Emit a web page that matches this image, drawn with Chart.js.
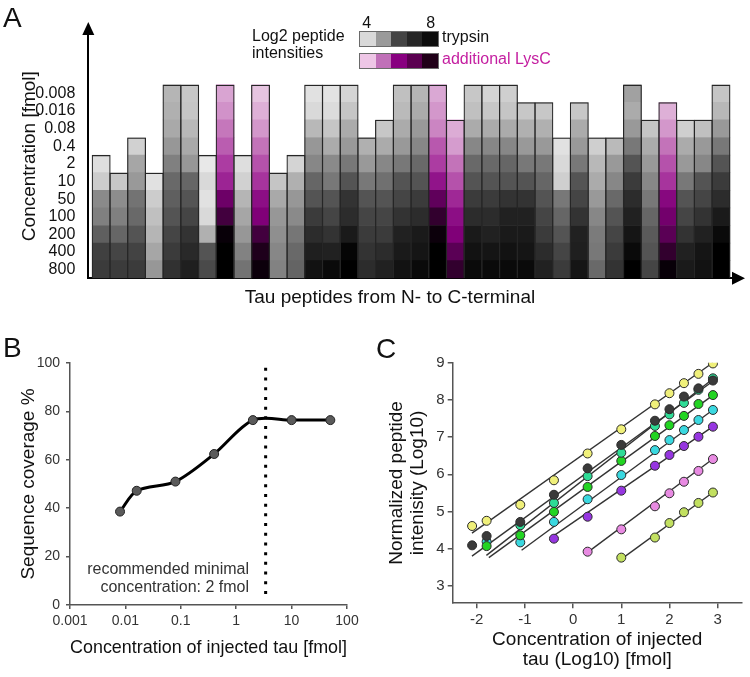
<!DOCTYPE html>
<html>
<head>
<meta charset="utf-8">
<title>Tau peptide figure</title>
<script src="https://cdn.jsdelivr.net/npm/chart.js@4.4.0/dist/chart.umd.min.js"></script>
<style>
  html, body { margin: 0; padding: 0; background: #fff; }
  #page { position: relative; width: 750px; height: 677px; overflow: hidden;
          font-family: 'Liberation Sans', Arial, Helvetica, sans-serif; color: #111; }
  .box { position: absolute; }
  .txt { position: absolute; white-space: nowrap; }
  .panel { font-size: 28px; line-height: 28px; }
  .leg { font-size: 16px; line-height: 16.5px; }
  .strip { position: absolute; width: 80px; height: 16px; display: flex;
           border: 1px solid #6a6a6a; box-sizing: border-box; }
  .strip span { flex: 1; }
</style>
</head>
<body>
<div id="page">
  <div class="box" style="left:0;top:0"><canvas id="chartA" width="750" height="310"></canvas></div>
  <div class="box" style="left:0;top:320px"><canvas id="chartB" width="375" height="357"></canvas></div>
  <div class="box" style="left:375px;top:320px"><canvas id="chartC" width="375" height="357"></canvas></div>

  <div class="txt panel" style="left:3px;top:4px">A</div>
  <div class="txt panel" style="left:3px;top:334px">B</div>
  <div class="txt panel" style="left:376px;top:335px">C</div>

  <div class="txt" style="left:390px;top:287px;font-size:19px;line-height:20px;transform:translateX(-50%)">Tau peptides from N- to C-terminal</div>

  <div class="txt leg" style="left:252px;top:28px">Log2 peptide<br>intensities</div>
  <div class="txt leg" style="left:366.7px;top:14.5px;transform:translateX(-50%)">4</div>
  <div class="txt leg" style="left:430.7px;top:14.5px;transform:translateX(-50%)">8</div>
  <div class="strip" style="left:359px;top:30.5px">
    <span style="background:#d9d9d9"></span><span style="background:#9a9a9a"></span><span style="background:#444"></span><span style="background:#262626"></span><span style="background:#0d0d0d"></span>
  </div>
  <div class="strip" style="left:359px;top:52.5px">
    <span style="background:#eec6e6"></span><span style="background:#c070b8"></span><span style="background:#880080"></span><span style="background:#5a0050"></span><span style="background:#200018"></span>
  </div>
  <div class="txt leg" style="left:442px;top:29px">trypsin</div>
  <div class="txt leg" style="left:442px;top:51px;color:#c41ea0">additional LysC</div>

  <div class="txt" style="right:501px;top:560px;font-size:16px;line-height:18.4px;text-align:right;color:#333">recommended minimal<br>concentration: 2 fmol</div>
</div>

<script>
// injected amounts, fmol
const concLabels = ['0.008', '0.016', '0.08', '0.4', '2', '10', '50', '100', '200', '400', '800'];
const concValues = [0.008, 0.016, 0.08, 0.4, 2, 10, 50, 100, 200, 400, 800];

// A: log2 intensity per tau peptide (N- to C-terminal), from 800 fmol upward.
// a column ends at the lowest amount where the peptide was still seen
const peptideIntensities = [
  [7.1, 7.0, 6.4, 5.75, 5.55, 4.25, 3.9],
  [7.1, 6.9, 6.25, 5.75, 5.5, 4.35],
  [7.1, 6.95, 6.6, 6.2, 6.0, 5.25, 5.0, 4.15],
  [5.3, 5.0, 4.7, 4.5, 4.25, 3.85],
  [7.3, 7.1, 6.9, 6.6, 6.4, 6.2, 5.75, 5.3, 4.95, 4.8, 4.7],
  [7.65, 7.45, 7.25, 6.9, 6.6, 6.25, 5.3, 4.95, 4.65, 4.4, 4.35],
  [6.8, 6.6, 4.8, 4.0, 3.85, 4.0, 3.7],
  [8.3, 8.3, 8.1, 7.2, 6.6, 5.6, 5.3, 5.0, 4.75, 4.45, 4.25],
  [6.0, 5.7, 5.3, 5.0, 4.7, 4.15, 3.9],
  [8.0, 7.7, 7.2, 6.3, 5.95, 5.4, 5.1, 4.8, 4.4, 4.1, 3.85],
  [5.7, 5.6, 5.45, 5.3, 4.95, 4.4],
  [6.3, 6.2, 5.95, 5.55, 5.3, 4.8, 4.1],
  [7.9, 7.65, 7.4, 7.1, 6.6, 6.25, 5.6, 5.3, 4.65, 4.0, 3.85],
  [8.05, 7.6, 7.25, 6.9, 6.6, 5.9, 5.55, 4.9, 4.4, 3.95, 3.8],
  [8.25, 8.15, 7.75, 7.4, 7.25, 6.6, 5.9, 5.25, 4.9, 4.4, 4.1],
  [7.4, 7.25, 7.1, 6.9, 6.6, 5.9, 5.25, 4.8],
  [7.6, 7.4, 7.1, 6.9, 6.6, 6.05, 5.6, 4.9, 4.35],
  [7.9, 7.75, 7.6, 7.25, 6.9, 6.6, 5.9, 5.25, 4.9, 4.6, 4.5],
  [8.05, 7.85, 7.75, 7.4, 7.1, 6.6, 6.2, 5.6, 5.25, 4.9, 4.7],
  [8.3, 8.3, 8.0, 7.4, 6.8, 5.8, 5.3, 5.05, 4.6, 4.4, 4.2],
  [7.4, 6.9, 6.3, 5.95, 5.55, 5.1, 4.8, 4.35, 4.15],
  [8.05, 7.9, 7.75, 7.4, 7.1, 6.6, 6.2, 5.6, 4.9, 4.5, 4.35],
  [8.05, 7.85, 7.6, 7.4, 7.1, 6.6, 6.2, 5.6, 4.9, 4.35, 4.1],
  [8.05, 7.9, 7.75, 7.6, 7.25, 6.6, 6.25, 5.6, 4.9, 4.4, 4.2],
  [8.05, 7.85, 7.75, 7.6, 7.25, 6.6, 5.9, 5.25, 4.8, 4.35],
  [7.6, 7.4, 7.1, 6.9, 6.6, 6.25, 5.9, 5.25, 4.8, 4.35],
  [7.1, 6.9, 6.6, 6.25, 5.9, 4.2, 4.0, 3.85],
  [7.85, 7.65, 7.6, 7.25, 6.9, 6.6, 5.9, 5.25, 4.9, 4.35],
  [6.2, 5.9, 5.85, 5.6, 5.25, 4.9, 4.65, 4.2],
  [7.25, 7.1, 6.9, 6.6, 6.2, 5.6, 5.25, 4.6],
  [8.25, 8.05, 7.85, 7.6, 7.4, 7.1, 6.6, 5.9, 5.25, 4.9, 5.1],
  [6.9, 6.6, 6.5, 6.25, 5.9, 5.6, 5.25, 4.9, 4.4],
  [8.1, 7.4, 6.9, 6.5, 6.1, 5.4, 5.1, 4.8, 4.4, 4.1],
  [7.75, 7.6, 7.25, 6.9, 6.6, 5.9, 5.25, 4.9, 4.2],
  [7.9, 7.85, 7.6, 7.25, 6.9, 6.6, 5.6, 5.25, 4.5],
  [8.25, 8.25, 8.05, 7.75, 7.4, 7.1, 6.6, 5.9, 5.25, 4.65, 4.4]
];
// peptides only found with the extra LysC digest (1-based)
const lysCPeptides = [8, 10, 20, 21, 33];

// B: sequence coverage
const coverageConc = [0.008, 0.016, 0.08, 0.4, 2, 10, 50];
const coveragePct = [38.6, 47.2, 51, 62.4, 76.4, 76.4, 76.4];
const cutoffFmol = 3.4;
const cutoffSpan = [98, 3];

// C: normalized intensity (log10) per peptide, one value per injected amount
const intensityYellow = [4.61, 4.75, 5.18, 5.84, 6.56, 7.21, 7.88, 8.18, 8.45, 8.70, 8.98];
const intensityBlack = [4.09, 4.34, 4.72, 5.45, 6.16, 6.79, 7.44, 7.75, 8.09, 8.31, 8.52];
const intensityMint = [null, null, 4.63, 5.23, 5.95, 6.58, 7.30, 7.61, 7.92, 8.27, 8.58];
const intensityGreen = [null, 4.07, 4.36, 4.99, 5.66, 6.36, 7.03, 7.32, 7.57, 7.89, 8.13];
const intensityCyan = [null, 4.19, 4.17, 4.72, 5.33, 5.98, 6.65, 6.92, 7.19, 7.46, 7.73];
const intensityPurple = [null, null, null, 4.27, 4.86, 5.56, 6.23, 6.52, 6.76, 7.01, 7.28];
const intensityPink = [null, null, null, null, 3.92, 4.52, 5.14, 5.49, 5.80, 6.09, 6.41];
const intensityLime = [null, null, null, null, null, 3.76, 4.30, 4.69, 4.98, 5.23, 5.51];

// fitted lines, [log10 fmol, log10 intensity] at both ends
const fitYellow = [[-2.1, 4.42], [2.9, 9.0]];
const fitBlack = [[-2.1, 3.80], [2.9, 8.50]];
const fitMint = [[-1.8, 3.82], [2.9, 8.56]];
const fitGreen = [[-1.75, 3.76], [2.9, 8.12]];
const fitCyan = [[-1.07, 3.96], [2.9, 7.73]];
const fitPurple = [[-0.4, 4.35], [2.9, 7.28]];
const fitPink = [[0.3, 3.9], [2.9, 6.41]];
const fitLime = [[1.0, 3.72], [2.9, 5.51]];

Chart.defaults.font.family = "'Liberation Sans', Arial, Helvetica, sans-serif";
Chart.defaults.animation = false;
Chart.defaults.plugins.legend.display = false;
Chart.defaults.plugins.tooltip.enabled = false;

// ---------- colour scales for panel A ----------
const toRgb = c => `rgb(${c.map(Math.round).join(',')})`;

const grayFor = v => {
  const g = Math.max(0, Math.min(235, 217 - 51 * (v - 4)));
  return toRgb([g, g, g]);
};

const magentaStops = [
  [3.8, [232, 200, 226]], [4.3, [215, 160, 208]], [4.8, [195, 115, 185]],
  [5.3, [172, 60, 162]], [5.8, [145, 20, 138]], [6.3, [128, 0, 120]],
  [6.9, [90, 0, 85]], [7.4, [50, 0, 46]], [7.9, [16, 0, 15]], [8.3, [0, 0, 0]]
];
const magentaFor = v => {
  if (v <= magentaStops[0][0]) return toRgb(magentaStops[0][1]);
  for (let i = 1; i < magentaStops.length; i++) {
    const [v1, c1] = magentaStops[i];
    if (v <= v1) {
      const [v0, c0] = magentaStops[i - 1];
      const t = (v - v0) / (v1 - v0);
      return toRgb(c0.map((c, k) => c + (c1[k] - c) * t));
    }
  }
  return toRgb(magentaStops[magentaStops.length - 1][1]);
};

// ---------- panel A ----------
const peptideNumbers = peptideIntensities.map((_, i) => i + 1);
const rowsFromBottom = [...concLabels].reverse();

// one stacked dataset per amount, each cell one unit tall
const cellDatasets = rowsFromBottom.map((label, row) => ({
  label: label + ' fmol',
  data: peptideIntensities.map((col, i) => ({ x: peptideNumbers[i], y: row < col.length ? 1 : null })),
  backgroundColor: ctx => {
    const v = peptideIntensities[ctx.dataIndex][row];
    if (v === undefined) return 'rgba(0,0,0,0)';
    return lysCPeptides.includes(ctx.dataIndex + 1) ? magentaFor(v) : grayFor(v);
  },
  borderWidth: 0,
  grouped: false,
  stack: 'cells',
  barPercentage: 1,
  categoryPercentage: 1,
  order: 1
}));

// outline around each peptide column; a bit wider so neighbouring borders overlap
const outlineDataset = {
  label: 'detected range',
  data: peptideIntensities.map((col, i) => ({ x: peptideNumbers[i], y: col.length })),
  backgroundColor: 'rgba(0,0,0,0)',
  borderColor: '#262626',
  borderWidth: 1.2,
  borderSkipped: 'start',
  grouped: false,
  stack: 'outline',
  barPercentage: 1.068,
  categoryPercentage: 1,
  order: 0
};

const axisArrows = {
  id: 'axisArrows',
  afterDraw(chart) {
    const { ctx, chartArea: a } = chart;
    ctx.save();
    ctx.fillStyle = '#000';
    ctx.beginPath();
    ctx.moveTo(a.left - 6, a.top + 1);
    ctx.lineTo(a.left + 6, a.top + 1);
    ctx.lineTo(a.left, a.top - 12);
    ctx.closePath();
    ctx.fill();
    ctx.beginPath();
    ctx.moveTo(a.right - 1, a.bottom - 6.5);
    ctx.lineTo(a.right - 1, a.bottom + 6.5);
    ctx.lineTo(a.right + 12, a.bottom);
    ctx.closePath();
    ctx.fill();
    ctx.restore();
  }
};

new Chart(document.getElementById('chartA'), {
  type: 'bar',
  data: { datasets: [outlineDataset, ...cellDatasets] },
  options: {
    responsive: false,
    layout: { padding: { top: 34, right: 17, left: 0, bottom: 0 } },
    scales: {
      x: {
        type: 'linear', min: 0.274, max: 36.68, offset: false,
        grid: { display: false },
        ticks: { display: false },
        border: { display: true, color: '#000', width: 2 },
        afterFit: s => { s.height = 31.7; }
      },
      y: {
        type: 'linear', min: 0, max: 13.88, stacked: true,
        grid: { display: false },
        border: { display: true, color: '#000', width: 2 },
        afterBuildTicks: s => { s.ticks = rowsFromBottom.map((_, i) => ({ value: i + 0.5 })); },
        ticks: {
          autoSkip: false,
          callback: (v, i) => rowsFromBottom[i],
          font: { size: 16 },
          color: '#111',
          padding: 5
        },
        title: {
          display: true,
          text: 'Concentration [fmol]',
          font: { size: 19 },
          color: '#111',
          padding: { top: 18, bottom: 0 }
        },
        afterFit: s => { s.width = 88.3; }
      }
    }
  },
  plugins: [axisArrows]
});

// ---------- panel B ----------
new Chart(document.getElementById('chartB'), {
  type: 'line',
  data: {
    datasets: [
      {
        label: 'recommended minimal concentration',
        data: cutoffSpan.map(y => ({ x: cutoffFmol, y })),
        borderColor: '#000',
        borderWidth: 3,
        borderDash: [3, 6.7],
        pointRadius: 0,
        order: 0
      },
      {
        label: 'Sequence coverage',
        data: coverageConc.map((x, i) => ({ x, y: coveragePct[i] })),
        borderColor: '#000',
        borderWidth: 3,
        tension: 0.3,
        pointRadius: 4.5,
        pointBackgroundColor: '#5a5a5a',
        pointBorderColor: '#222',
        pointBorderWidth: 1,
        order: 1
      }
    ]
  },
  options: {
    responsive: false,
    layout: { padding: { top: 43, right: 28, left: 0, bottom: 0 } },
    scales: {
      x: {
        type: 'logarithmic', min: 0.001, max: 100,
        afterBuildTicks: s => { s.ticks = [0.001, 0.01, 0.1, 1, 10, 100].map(value => ({ value })); },
        ticks: { callback: v => String(v), font: { size: 14 }, color: '#333', padding: 4, autoSkip: false, maxRotation: 0 },
        grid: { display: true, drawOnChartArea: false, drawTicks: true, tickLength: 4, color: '#555', lineWidth: 1.5 },
        border: { display: true, color: '#555', width: 1.5 },
        title: {
          display: true,
          text: 'Concentration of injected tau [fmol]',
          font: { size: 19 },
          color: '#111',
          padding: { top: 0, bottom: 17.6 }
        },
        afterFit: s => { s.height = 72; }
      },
      y: {
        type: 'linear', min: 0, max: 100,
        ticks: { stepSize: 20, font: { size: 14 }, color: '#333', padding: 6 },
        grid: { display: true, drawOnChartArea: false, drawTicks: true, tickLength: 4, color: '#555', lineWidth: 1.5 },
        border: { display: true, color: '#555', width: 1.5 },
        title: {
          display: true,
          text: 'Sequence coverage %',
          font: { size: 19 },
          color: '#111',
          padding: { top: 17.6, bottom: 0 }
        },
        afterFit: s => { s.width = 70; }
      }
    }
  }
});

// ---------- panel C ----------
const concLog = concValues.map(Math.log10);

const cSeries = [
  { values: intensityYellow, fit: fitYellow, color: '#f0f07a' },
  { values: intensityBlack, fit: fitBlack, color: '#3a3a3a' },
  { values: intensityMint, fit: fitMint, color: '#2edc96' },
  { values: intensityGreen, fit: fitGreen, color: '#22d422' },
  { values: intensityCyan, fit: fitCyan, color: '#3ad8e0' },
  { values: intensityPurple, fit: fitPurple, color: '#9636e0' },
  { values: intensityPink, fit: fitPink, color: '#e88ae2' },
  { values: intensityLime, fit: fitLime, color: '#c2e060' }
];

const fitSets = cSeries.map(s => ({
  type: 'line',
  data: s.fit.map(([x, y]) => ({ x, y })),
  borderColor: '#333',
  borderWidth: 1.4,
  pointRadius: 0,
  order: 1
}));

const pointSets = cSeries.map(s => ({
  type: 'scatter',
  data: s.values.map((y, i) => ({ x: concLog[i], y })).filter(p => p.y !== null),
  backgroundColor: s.color,
  borderColor: '#2a2a2a',
  borderWidth: 1,
  pointRadius: 4.5,
  order: 0
}));

new Chart(document.getElementById('chartC'), {
  type: 'scatter',
  data: { datasets: [...fitSets, ...pointSets] },
  options: {
    responsive: false,
    layout: { padding: { top: 42.7, right: 8.3, left: 0, bottom: 0 } },
    scales: {
      x: {
        type: 'linear', min: -2.5, max: 3.5,
        afterBuildTicks: s => { s.ticks = [-2, -1, 0, 1, 2, 3].map(value => ({ value })); },
        ticks: { font: { size: 15 }, color: '#333', padding: 3, autoSkip: false },
        grid: { display: true, drawOnChartArea: false, drawTicks: true, tickLength: 5, color: '#555', lineWidth: 1.5 },
        border: { display: true, color: '#555', width: 1.5 },
        title: {
          display: true,
          text: ['Concentration of injected', 'tau (Log10) [fmol]'],
          font: { size: 19, lineHeight: 1.05 },
          color: '#111',
          padding: { top: 0, bottom: 7 }
        },
        afterFit: s => { s.height = 73.8; }
      },
      y: {
        type: 'linear', min: 2.535, max: 9,
        afterBuildTicks: s => { s.ticks = [3, 4, 5, 6, 7, 8, 9].map(value => ({ value })); },
        ticks: { font: { size: 15 }, color: '#333', padding: 3, autoSkip: false },
        grid: { display: true, drawOnChartArea: false, drawTicks: true, tickLength: 5, color: '#555', lineWidth: 1.5 },
        border: { display: true, color: '#555', width: 1.5 },
        title: {
          display: true,
          text: ['Normalized peptide', 'intenisity (Log10)'],
          font: { size: 19, lineHeight: 1.1 },
          color: '#111',
          padding: { top: 11.5, bottom: 0 }
        },
        afterFit: s => { s.width = 77.7; }
      }
    }
  }
});
</script>
</body>
</html>
